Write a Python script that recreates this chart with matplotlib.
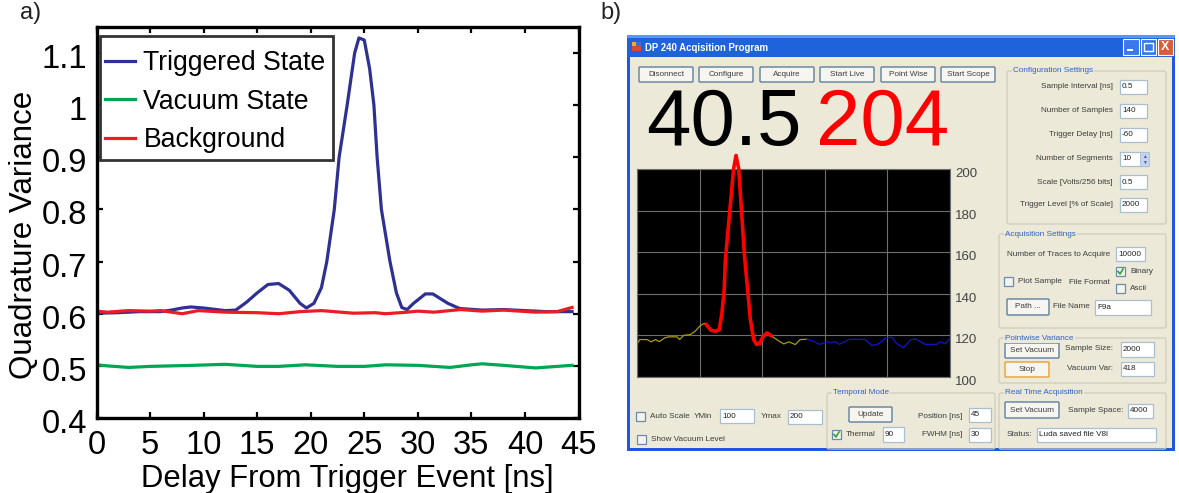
import matplotlib
matplotlib.use("Agg")
import matplotlib.pyplot as plt
from matplotlib.patches import Rectangle, FancyBboxPatch
from matplotlib.transforms import ScaledTranslation

plt.rcParams["font.family"] = ["Liberation Sans", "DejaVu Sans"]

W, H = 1179, 493

# panel a)
trig_x = [0, 2, 4, 6, 7, 8, 8.8, 10, 12, 13, 14, 15, 16, 17, 18, 19, 19.6, 20.3, 21, 21.5, 22.2, 22.65,
          23.4, 24.1, 24.5, 25, 25.5, 25.9, 26.2, 26.6, 27.4, 28, 28.5, 29, 29.6, 30.7, 31.4, 32.8,
          33.9, 36, 38, 40, 42, 44.4]
trig_y = [.601, .602, .604, .604, .607, .611, .613, .611, .606, .607, .622, .640, .656, .658, .645,
          .620, .611, .620, .650, .700, .800, .900, 1.0, 1.10, 1.129, 1.125, 1.07, 1.0, .90,
          .8, .7, .64, .612, .608, .62, .638, .638, .62, .61, .607, .608, .606, .604, .604]
vac_x = [0, 1, 3, 5, 7, 9, 12, 15, 17, 19.5, 22.5, 25, 27, 30, 33, 35, 36, 38, 41, 43, 44.4]
vac_y = [.502, .500, .497, .499, .500, .501, .503, .499, .499, .502, .499, .499, .502, .501, .497, .502, .504,
         .501, .496, .499, .501]
bg_x = [0, 1, 3, 5, 6, 7, 8, 9.5, 12, 15, 17, 19, 21, 24, 26, 27, 29, 30, 31.5, 34, 36, 38, 41, 43, 44.4]
bg_y = [.605, .603, .606, .605, .606, .603, .600, .606, .603, .602, .600, .604, .606, .601, .602, .600, .603,
        .605, .603, .608, .605, .607, .603, .604, .612]
x_ticks = [0, 5, 10, 15, 20, 25, 30, 35, 40, 45]
y_ticks = [0.4, 0.5, 0.6, 0.7, 0.8, 0.9, 1.0, 1.1]
y_labels = ["0.4", "0.5", "0.6", "0.7", "0.8", "0.9", "1", "1.1"]

# panel b) trace, sample index / counts
yellow1_x = [0, 1.2, 4.5, 6.3, 8.2, 10, 12.4, 14.2, 17.9, 19, 20.9, 23.8, 26, 28.3, 30.1, 31]
yellow1_y = [115.7, 118, 118, 116.9, 118, 117, 118.8, 119.3, 119.3, 118, 120, 120.4, 122, 124.7, 125.8, 125.2]
red_x = [31, 33, 35, 36.8, 38, 39, 39.5, 43.2, 44.3, 45.5, 48.1, 49.2, 50.7, 52.2, 53.4, 54.8, 56.3, 58.1, 59.9]
red_y = [125.2, 122.5, 122, 122.8, 130.8, 142, 156, 200, 206.5, 200, 158, 145.3, 127.6, 118, 115.7, 116, 119.3,
         121.2, 119.9]
yellow2_x = [59.9, 62.9, 65.6, 68, 70.8, 73, 76]
yellow2_y = [119.9, 117.7, 115.9, 116.9, 115.6, 118, 118.1]
blue_x = [76, 79, 81.5, 83.8, 85, 86.5, 88.7, 90.6, 92.4, 95, 102, 105, 108, 111.3, 114, 116.2, 119.2, 122.2,
          123.7, 125.2, 128.9, 134.1, 135.6, 137.9, 139.8]
blue_y = [118.1, 117.2, 115.7, 116.4, 117, 116.4, 117, 115.7, 116.7, 118.1, 118.1, 115.2, 115.9, 118.8, 119.1,
          116, 114, 117.7, 118.3, 118, 115.7, 115.7, 116.9, 115.9, 118.3]

FACE = "#ECE9D8"
TXT = "#3c3c3c"
BLUE_TXT = "#2f5fd0"


def px_axes(fig, l, t, r, b):
    return fig.add_axes([l / W, 1 - b / H, (r - l) / W, (b - t) / H])


def shift_down(labels, fig, px):
    off = ScaledTranslation(0, -px / 100, fig.dpi_scale_trans)
    for t in labels:
        t.set_transform(t.get_transform() + off)


fig = plt.figure(figsize=(W / 100, H / 100), dpi=100)

# ---- a) ----
ax = px_axes(fig, 96.5, 27, 578.5, 418)
ax.plot(trig_x, trig_y, color="#2e3192", lw=2.3, label="Triggered State")
ax.plot(vac_x, vac_y, color="#00a651", lw=2.3, label="Vacuum State")
ax.plot(bg_x, bg_y, color="#ed1c24", lw=2.3, label="Background")
ax.set_xlim(0, 45)
ax.set_ylim(0.4, 1.150)
ax.set_xticks(x_ticks)
ax.set_yticks(y_ticks, y_labels)
ax.tick_params(direction="in", top=True, right=True, length=4, width=1.6, labelsize=23.5)
ax.tick_params(axis="y", pad=7)
ax.tick_params(axis="x", pad=9)
shift_down(ax.get_yticklabels(), fig, 3)
ax.set_xlabel("Delay From Trigger Event [ns]", fontsize=22.3)
ax.xaxis.set_label_coords(0.52, -0.118)
ax.set_ylabel("Quadrature Variance", fontsize=22.5)
ax.yaxis.set_label_coords(-0.12, 0.468)
for s in ax.spines.values():
    s.set_linewidth(2.4)
# legend frame sits at fixed pixels, its padding is uneven in the original
ax.add_patch(Rectangle((100 / W, 1 - 160 / H), 233 / W, 124 / H, transform=fig.transFigure, fc="white",
                       ec="#333333", lw=2, zorder=4))
leg = ax.legend(loc="upper left", bbox_to_anchor=(105 / W, 1 - 50 / H), bbox_transform=fig.transFigure,
                borderaxespad=0, borderpad=0, fontsize=19.2, frameon=False, handlelength=1.14, labelspacing=0.47,
                handletextpad=0.3)
leg.set_zorder(5)

# ---- b) chrome, drawn in pixel coordinates ----
ui = fig.add_axes([0, 0, 1, 1], zorder=-1)
ui.set_xlim(0, W)
ui.set_ylim(H, 0)
ui.axis("off")


def box(l, t, r, b, fc, ec="none", lw=0.8, z=1):
    ui.add_patch(Rectangle((l, t), r - l, b - t, fc=fc, ec=ec, lw=lw, zorder=z))


def label(x, y, s, ha="left", color=TXT, size=5.9, **kw):
    ui.text(x, y, s, ha=ha, va="center", color=color, fontsize=size, zorder=5, **kw)


def button(l, t, r, b, s, ec="#5f7f9f"):
    ui.add_patch(FancyBboxPatch((l + 1, t + 1), r - l - 2, b - t - 2, boxstyle="round,pad=1", fc="#f6f5ef", ec=ec,
                                lw=1.0, zorder=3))
    label((l + r) / 2, (t + b) / 2, s, ha="center")


def entry(l, t, r, b, s):
    box(l, t, r, b, "white", "#a9bfd0", 0.9, 3)
    label(l + 2, (t + b) / 2, s, color="#222222")


def check(l, t, s, on=False):
    box(l, t, l + 9, t + 9, "#f4f4ee", "#6d8aa8", 0.9, 3)
    if on:
        ui.plot([l + 2, l + 4, l + 7], [t + 4.5, t + 7, t + 2], color="#2da52d", lw=1.2, zorder=4)
    label(l + 14, t + 4.5, s)


def group(l, t, r, b, s):
    ui.add_patch(FancyBboxPatch((l + 2, t + 2), r - l - 4, b - t - 4, boxstyle="round,pad=2", fc="none",
                                ec="#cfccbc", lw=0.9, zorder=2))
    ui.text(l + 6, t, s, ha="left", va="center", color=BLUE_TXT, fontsize=5.9, zorder=5,
            bbox=dict(fc=FACE, ec="none", pad=0.8))


label(20, 13, "a)", size=17, color="#222222")
label(600, 13, "b)", size=17, color="#222222")

box(627, 35, 1175, 451, "#1f57e0")
box(630, 57, 1172, 448, FACE)
box(627, 35, 1175, 57, "#1e62dc")
box(627, 35, 1175, 38, "#5b97f0")
box(632, 42, 636, 46, "#e8b030")
box(636, 42, 641, 46, "#3f6fd0")
box(632, 46, 641, 51, "#d84a30")
label(645, 48, "DP 240 Acqisition Program", color="white", size=6.9, fontweight="bold")
box(1123.3, 39, 1139, 55, "#3d78e8", "white", 0.8, 3)
box(1127, 49, 1133, 51, "white", z=4)
box(1140.7, 39, 1156, 55, "#3d78e8", "white", 0.8, 3)
box(1144, 43, 1153, 51, "none", "white", 1.0, 4)
box(1157.7, 39, 1173.3, 55, "#dd5a3c", "white", 0.8, 3)
label(1165.5, 47, "X", ha="center", color="white", size=9, fontweight="bold")

top_buttons = ["Disonnect", "Configure", "Acquire", "Start Live", "Point Wise", "Start Scope"]
top_left = [639, 699, 760, 820, 881, 941]
for left, name in zip(top_left, top_buttons):
    button(left, 67, left + 54, 82, name)

ui.text(646, 145, "40.5", color="black", fontsize=57.5, ha="left", va="baseline", zorder=5)
ui.text(816, 145, "204", color="#ff0000", fontsize=57.5, ha="left", va="baseline", zorder=5)

# bottom left row
check(636, 412, "Auto Scale")
label(694, 417, "YMin")
entry(720, 409, 754, 423, "100")
label(761, 417, "Ymax")
entry(788, 410, 822, 424, "200")
check(637, 435, "Show Vacuum Level")

group(827, 393, 995, 449, "Temporal Mode")
button(849, 407, 892, 422, "Update")
label(962, 416, "Position [ns]", ha="right")
entry(969, 408, 991, 422, "45")
label(962, 435, "FWHM [ns]", ha="right")
entry(969, 428, 991, 442, "30")
check(832, 430, "Thermal", on=True)
entry(883, 427, 904, 442, "90")

group(1007, 71, 1166, 224, "Configuration Settings")
config_names = ["Sample Interval [ns]", "Number of Samples", "Trigger Delay [ns]", "Number of Segments",
                "Scale [Volts/256 bits]", "Trigger Level [% of Scale]"]
config_vals = ["0.5", "140", "-60", "10", "0.5", "2000"]
config_y = [87, 111, 135, 159, 182, 205]
for name, val, yy in zip(config_names, config_vals, config_y):
    label(1113, yy, name, ha="right")
    entry(1120, yy - 7, 1147, yy + 7, val)
box(1140, 152, 1149, 166, "#c5d3ee", "#a9bfd0", 0.6, 4)
label(1144.5, 156, "▲", ha="center", size=3.5, color="#3a5a90")
label(1144.5, 162, "▼", ha="center", size=3.5, color="#3a5a90")

group(999, 234, 1166, 328, "Acquisition Settings")
label(1007, 254, "Number of Traces to Acquire")
entry(1116, 247, 1145, 261, "10000")
check(1116, 267, "Binary", on=True)
check(1116, 284, "Ascii")
check(1004, 277, "Plot Sample")
label(1069, 282, "File Format")
button(1007, 299, 1049, 315, "Path ...")
label(1053, 307, "File Name")
entry(1095, 300, 1151, 315, "F9a")

group(999, 338, 1166, 383, "Pointwise Variance")
button(1005, 343, 1059, 358, "Set Vacuum")
label(1113, 349, "Sample Size:", ha="right")
entry(1121, 342, 1154, 357, "2000")
button(1005, 362, 1049, 377, "Stop", ec="#e8a030")
label(1113, 369, "Vacuum Var:", ha="right")
entry(1121, 362, 1154, 376, "418")

group(999, 393, 1166, 449, "Real Time Acquisition")
button(1005, 402, 1059, 418, "Set Vacuum")
label(1123, 411, "Sample Space:", ha="right")
entry(1128, 404, 1153, 418, "4000")
label(1007, 435, "Status:")
entry(1037, 428, 1156, 442, "Luda saved file V8l")

# ---- b) scope trace ----
sc = px_axes(fig, 637, 169, 950, 377)
sc.set_facecolor("black")
sc.plot(yellow1_x, yellow1_y, color="#a89a10", lw=0.9)
sc.plot(yellow2_x, yellow2_y, color="#a89a10", lw=0.9)
sc.plot(blue_x, blue_y, color="#1414c8", lw=0.9)
sc.plot(red_x, red_y, color="#ff0000", lw=2.6, clip_on=False, zorder=6)
sc.set_xlim(0, 140)
sc.set_ylim(100, 200)
sc.set_xticks([0, 28, 56, 84, 112, 140], [])
sc.set_yticks([100, 120, 140, 160, 180, 200])
sc.yaxis.tick_right()
sc.grid(True, color="#6e6e6e", lw=0.8)
sc.set_axisbelow(True)
sc.tick_params(length=0, labelsize=9.5, labelcolor="#444444", pad=3.5)
shift_down(sc.get_yticklabels(), fig, 3.5)
for s in sc.spines.values():
    s.set_color("#6e6e6e")
    s.set_linewidth(0.8)

fig.savefig("out.png", dpi=100)
